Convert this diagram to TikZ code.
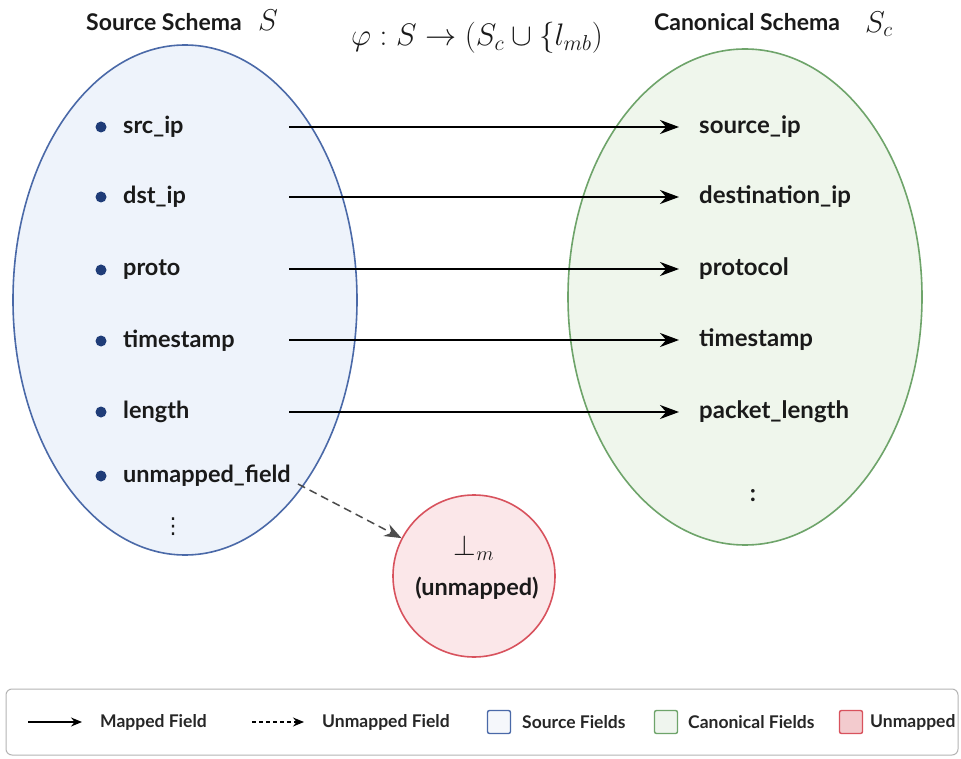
\documentclass[tikz,border=0pt]{standalone}
\usepackage{graphicx}
\usepackage{fontspec}
\setmainfont{Lato}
\newfontfamily\dejavu{DejaVu Sans}
\usetikzlibrary{shapes.geometric,arrows.meta}
\definecolor{srcline}{HTML}{4A69A8}
\definecolor{srcfill}{HTML}{EEF3FB}
\definecolor{srcdot}{HTML}{1F3C78}
\definecolor{canline}{HTML}{6EA46A}
\definecolor{canfill}{HTML}{EFF6EC}
\definecolor{unline}{HTML}{D8525D}
\definecolor{unfill}{HTML}{FBE7E9}
\definecolor{legline}{HTML}{B4B4B4}
\definecolor{txt}{HTML}{1A1A1A}
\tikzset{
  fieldlbl/.style={anchor=west, inner sep=0pt, font=\bfseries\fontsize{23.5}{28}\selectfont, text=txt},
  tgtlbl/.style={anchor=west, inner xsep=20pt, inner ysep=0pt, font=\bfseries\fontsize{24}{28}\selectfont, text=txt},
  bulletdot/.style={circle, fill=srcdot, inner sep=0pt, minimum size=11pt},
  maparrow/.style={line width=2.2pt, -{Stealth[length=19pt,width=14pt]}},
  unmaparrow/.style={line width=1.5pt, dash pattern=on 8pt off 5pt, draw=black!70, -{Stealth[length=17pt,width=13pt]}},
  titlelbl/.style={font=\bfseries\fontsize{23}{26}\selectfont, text=txt, inner sep=0pt},
  mathlbl/.style={font=\fontsize{20.74}{25}\selectfont, text=txt, inner sep=0pt},
  dotslbl/.style={font=\dejavu\fontsize{22}{24}\selectfont, text=txt, inner sep=0pt},
  leglbl/.style={anchor=west, inner sep=0pt, font=\bfseries\fontsize{17.5}{20}\selectfont, text=black!85},
  legsq/.style={rounded corners=2pt, line width=1.4pt, minimum size=23pt, inner sep=0pt},
  setshape/.style={line width=1.6pt, inner sep=0pt},
}
\begin{document}
\begin{tikzpicture}[x=1pt, y=-1pt]
\useasboundingbox (0,0) rectangle (961,759);
\fill[white] (0,0) rectangle (961,759);

% sets
\node[setshape, ellipse, draw=srcline, fill=srcfill, minimum width=344pt, minimum height=510pt] (srcset) at (185,300) {};
\node[setshape, ellipse, draw=canline, fill=canfill, minimum width=354pt, minimum height=496pt] (canset) at (745,297) {};
\node[setshape, circle, draw=unline, fill=unfill, minimum size=162pt] (bot) at (474,576) {};
\node[mathlbl] (botsym) at (474,548) {\scalebox{1.4}{$\perp_m$}};
\node[font=\bfseries\fontsize{23.5}{26}\selectfont, text=txt, inner sep=0pt] (bottxt) at (477,588) {(unmapped)};

% titles
\node[titlelbl] (srctitle) at (164,22) {Source Schema};
\node[mathlbl] (srcS) at (268,20) {\scalebox{1.45}{$S$}};
\node[titlelbl] (cantitle) at (747,22) {Canonical Schema};
\node[mathlbl] (canS) at (879,24) {\scalebox{1.45}{$S_c$}};
\node[mathlbl] (phi) at (477,38) {\scalebox{1.5}{$\varphi : S \rightarrow (S_c \cup \{ l_{mb})$}};

% source fields
\foreach \n/\y/\t in {1/127/src\_ip, 2/197/dst\_ip, 3/270/proto, 4/341/timestamp, 5/412/length, 6/476/unmapped\_field}{
  \node[bulletdot] (b\n) at (101,\y) {};
  \node[fieldlbl] (s\n) at (123,\y) {\t};
}
\node[dotslbl] (srcdots) at (173,527) {⋮};

% canonical fields
\foreach \n/\y/\t in {1/127/source\_ip, 2/197/destination\_ip, 3/269/protocol, 4/340/timestamp, 5/412/packet\_length}{
  \node[tgtlbl] (t\n) at (679,\y) {\t};
  \coordinate (a\n) at (289,\y);
  \draw[maparrow] (a\n) -- (t\n.west);
}
\node[font=\bfseries\fontsize{24}{26}\selectfont, text=txt, inner sep=0pt] (candots) at (753,496) {:};

% unmapped
\coordinate (ustart) at (298,484);
\draw[unmaparrow] (ustart) -- (bot);

% legend
\node[draw=legline, line width=1pt, rounded corners=6pt, minimum width=952pt, minimum height=66pt, inner sep=0pt] (legend) at (482,722) {};
\coordinate (l1a) at (28,722);
\coordinate (l1b) at (82,722);
\draw[line width=1.4pt, -{Stealth[length=11pt,width=9pt]}] (l1a) -- (l1b);
\node[leglbl] (lt1) at (100,722) {Mapped Field};
\coordinate (l2a) at (252,722);
\coordinate (l2b) at (304,722);
\draw[line width=1.3pt, dash pattern=on 4pt off 3pt, -{Stealth[length=11pt,width=9pt]}] (l2a) -- (l2b);
\node[leglbl] (lt2) at (322,722) {Unmapped Field};
\node[legsq, draw=srcline, fill=srcfill!80!srcline!20] (sq1) at (499,722) {};
\node[leglbl] (lt3) at (522,722) {Source Fields};
\node[legsq, draw=canline, fill=canfill!70!canline!30] (sq2) at (666,722) {};
\node[leglbl] (lt4) at (688,722) {Canonical Fields};
\node[legsq, draw=unline, fill=unline!30] (sq3) at (851,722) {};
\node[leglbl] (lt5) at (870,722) {Unmapped};
\end{tikzpicture}
\end{document}
